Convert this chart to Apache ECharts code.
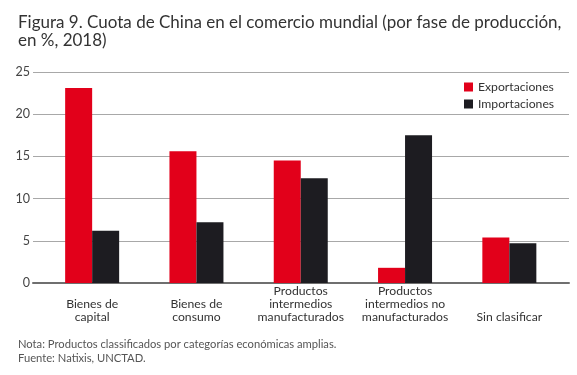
<!DOCTYPE html>
<html>
<head>
<meta charset="utf-8">
<script src="https://cdn.jsdelivr.net/npm/echarts@6/dist/echarts.min.js"></script>
<style>html,body{margin:0;padding:0;background:#fff}#c{width:577px;height:375px}</style>
</head>
<body>
<div id="c"></div>
<script>
const categories = ["Bienes de\ncapital", "Bienes de\nconsumo", "Productos\nintermedios\nmanufacturados", "Productos\nintermedios no\nmanufacturados", "Sin clasificar"];
const exportaciones = [23.1, 15.6, 14.5, 1.8, 5.4];
const importaciones = [6.2, 7.2, 12.4, 17.5, 4.7];
const yTicks = [0, 5, 10, 15, 20, 25];
const titleText = "Figura 9. Cuota de China en el comercio mundial (por fase de producción,\nen %, 2018)";
const noteText = "Nota: Productos classificados por categorías económicas amplias.\nFuente: Natixis, UNCTAD.";

const FONT = "Lato";
const chart = echarts.init(document.getElementById('c'), null, {renderer: 'canvas'});
chart.setOption({
  animation: false,
  backgroundColor: '#fff',
  textStyle: {fontFamily: FONT},
  title: [
    {text: titleText, left: 13, top: 9, textStyle: {fontFamily: FONT, fontSize: 17, fontWeight: 'normal', color: '#333', lineHeight: 18}},
    {text: noteText, left: 13, top: 333, textStyle: {fontFamily: FONT, fontSize: 11.2, fontWeight: 'normal', color: '#555', lineHeight: 13.5}}
  ],
  legend: {
    orient: 'vertical', left: 459, top: 76, icon: 'rect', itemWidth: 9, itemHeight: 9, itemGap: 5,
    textStyle: {fontFamily: FONT, fontSize: 12.2, color: '#333'},
    data: ['Exportaciones', 'Importaciones']
  },
  grid: [
    {left: 33, right: 8, top: 72, bottom: 92},
    {left: 40, right: 15.5, top: 72, bottom: 92}
  ],
  xAxis: [
    {type: 'value', gridIndex: 0, min: 0, max: 1, axisLabel: {show: false}, axisTick: {show: false}, splitLine: {show: false},
     axisLine: {show: true, lineStyle: {color: '#6f6f6f', width: 2}}},
    {type: 'category', gridIndex: 1, data: categories, axisLine: {show: false}, axisTick: {show: false},
     axisLabel: {interval: 0, fontFamily: FONT, fontSize: 12.2, color: '#333', lineHeight: 13, verticalAlign: 'bottom', margin: 41}}
  ],
  yAxis: [
    {type: 'value', gridIndex: 0, min: yTicks[0], max: yTicks[yTicks.length - 1], interval: 5,
     axisLine: {show: false}, axisTick: {show: false},
     axisLabel: {fontFamily: FONT, fontSize: 12.5, color: '#444', margin: 3},
     splitLine: {lineStyle: {color: '#a8a8a8', width: 1}}},
    {type: 'value', gridIndex: 1, min: 0, max: 25, show: false}
  ],
  series: [
    {name: 'Exportaciones', type: 'bar', xAxisIndex: 1, yAxisIndex: 1, data: exportaciones, barWidth: 27, barGap: '0%', itemStyle: {color: '#e2001a'}},
    {name: 'Importaciones', type: 'bar', xAxisIndex: 1, yAxisIndex: 1, data: importaciones, barWidth: 27, barGap: '0%', itemStyle: {color: '#1d1c21'}}
  ]
});
</script>
</body>
</html>
